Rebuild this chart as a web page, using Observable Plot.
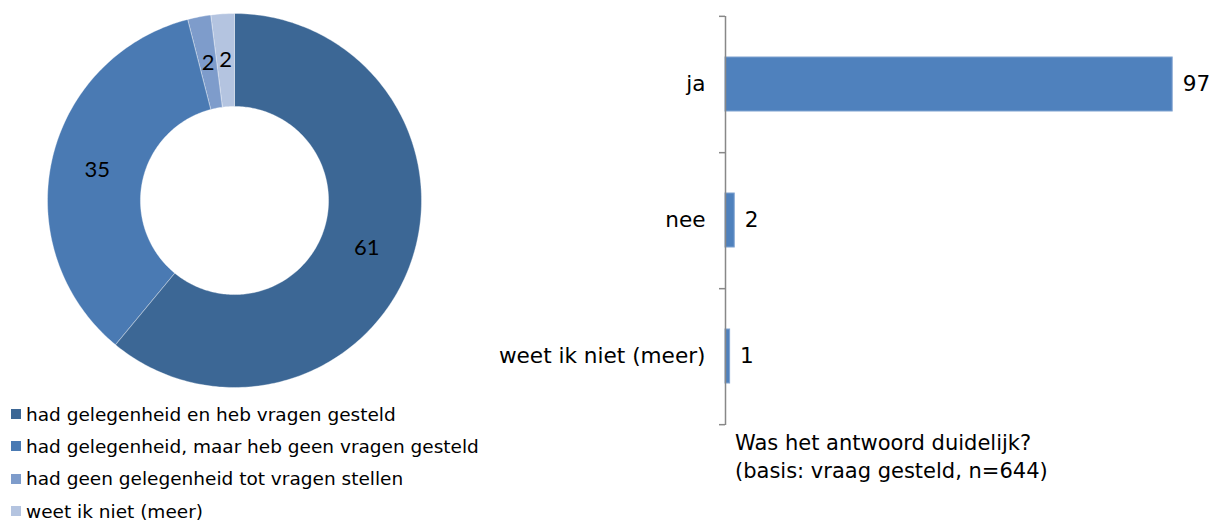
<!DOCTYPE html>
<html>
<head>
<meta charset="utf-8">
<script src="https://cdn.jsdelivr.net/npm/d3@7"></script>
<script src="https://cdn.jsdelivr.net/npm/@observablehq/plot@0.6"></script>
<style>
  html, body { margin: 0; padding: 0; background: #fff; width: 1221px; height: 520px; overflow: hidden; }
  #page { position: relative; width: 1221px; height: 520px; font-family: "DejaVu Sans", Verdana, sans-serif; color: #000; }
  #donut { position: absolute; left: 0; top: 0; }
  #legend { position: absolute; left: 11px; top: 398px; }
  .row { display: flex; align-items: center; height: 32.3px; font-size: 18.5px; white-space: nowrap; }
  .sw { width: 10px; height: 10px; margin-right: 5px; flex: none; }
  #bars { position: absolute; left: 480px; top: 0; }
  #title { position: absolute; left: 735px; top: 429px; font-size: 21px; line-height: 28px; white-space: nowrap; }
</style>
</head>
<body>
<div id="page">
  <div id="donut"></div>
  <div id="legend"></div>
  <div id="bars"></div>
  <div id="title"></div>
</div>
<script>
// ---- Donut data ----
const donutCategories = [
  "had gelegenheid en heb vragen gesteld",
  "had gelegenheid, maar heb geen vragen gesteld",
  "had geen gelegenheid tot vragen stellen",
  "weet ik niet (meer)"
];
const donutValues = [61, 35, 2, 2];
const donutColors = ["#3C6795", "#4A7AB3", "#7E9CCB", "#B4C4E0"];

// ---- Bar data ----
const barCategories = ["ja", "nee", "weet ik niet (meer)"];
const barValues = [97, 2, 1];
const barColor = "#4F81BD";
const barTitle = ["Was het antwoord duidelijk?", "(basis: vraag gesteld, n=644)"];

// ---- Donut geometry (built from the values) ----
const total = d3.sum(donutValues);
const rOuter = 1, rInner = 0.503;
const ringPoints = [];
const labelPoints = [];
let acc = 0;
donutValues.forEach((v, i) => {
  const a0 = acc / total * 2 * Math.PI;
  acc += v;
  const a1 = acc / total * 2 * Math.PI;
  const n = Math.max(4, Math.ceil((a1 - a0) / (Math.PI / 180)));
  const key = donutCategories[i];
  for (let k = 0; k <= n; k++) {
    const a = a0 + (a1 - a0) * k / n;
    ringPoints.push({key, x: rOuter * Math.sin(a), y: rOuter * Math.cos(a)});
  }
  for (let k = n; k >= 0; k--) {
    const a = a0 + (a1 - a0) * k / n;
    ringPoints.push({key, x: rInner * Math.sin(a), y: rInner * Math.cos(a)});
  }
  const am = (a0 + a1) / 2, rm = (rOuter + rInner) / 2;
  labelPoints.push({key, value: v, x: rm * Math.sin(am), y: rm * Math.cos(am)});
});

const R = 187;
const donutW = 470, donutH = 400;
const donut = Plot.plot({
  width: donutW,
  height: donutH,
  margin: 0,
  x: {domain: [-234 / R, (donutW - 234) / R], axis: null},
  y: {domain: [-(donutH / 2) / R, (donutH / 2) / R], axis: null},
  color: {domain: donutCategories, range: donutColors},
  style: {background: "transparent"},
  marks: [
    Plot.line(ringPoints, {x: "x", y: "y", z: "key", fill: "key", stroke: "#ffffff", strokeWidth: 0.6, strokeOpacity: 0.6, curve: "linear-closed"}),
    Plot.text(labelPoints, {x: "x", y: "y", text: d => String(d.value), fill: "#000", fontSize: 22, fontFamily: "Lato, 'DejaVu Sans', sans-serif"})
  ]
});
document.getElementById("donut").appendChild(donut);

// ---- Legend ----
const legend = document.getElementById("legend");
donutCategories.forEach((c, i) => {
  const row = document.createElement("div");
  row.className = "row";
  const sw = document.createElement("span");
  sw.className = "sw";
  sw.style.background = donutColors[i];
  const tx = document.createElement("span");
  tx.textContent = c;
  row.appendChild(sw);
  row.appendChild(tx);
  legend.appendChild(row);
});

// ---- Bar chart ----
const barData = barCategories.map((c, i) => ({cat: c, value: barValues[i]}));
const barsTop = 16, barsBottom = 425;
const step = (barsBottom - barsTop) / barCategories.length;
const xPerUnit = 461 / 100;
const bars = Plot.plot({
  width: 741,
  height: 440,
  marginLeft: 245,
  marginRight: 35,
  marginTop: barsTop,
  marginBottom: 440 - barsBottom,
  style: {fontFamily: "'DejaVu Sans', Verdana, sans-serif", fontSize: "21.6px", color: "#000", background: "transparent"},
  x: {domain: [0, 100], axis: null},
  y: {domain: barCategories, paddingInner: 0.6, paddingOuter: 0.3, label: null, tickSize: 0, tickPadding: 20},
  marks: [
    Plot.barX(barData, {x: "value", y: "cat", fill: barColor, stroke: "#7FA2D0", strokeWidth: 1}),
    Plot.ruleX([0], {stroke: "#888888", strokeWidth: 1.5}),
    Plot.ruleY(barCategories, {y: d => d, dy: step / 2, x1: 0, x2: -6 / xPerUnit, stroke: "#888888", strokeWidth: 1.5}),
    Plot.ruleY(barCategories.slice(0, 1), {y: d => d, dy: -step / 2, x1: 0, x2: -6 / xPerUnit, stroke: "#888888", strokeWidth: 1.5}),
    Plot.text(barData, {x: "value", y: "cat", text: d => String(d.value), textAnchor: "start", dx: 10, fill: "#000", fontSize: 21.6})
  ]
});
document.getElementById("bars").appendChild(bars);

document.getElementById("title").innerHTML = barTitle.map(t => `<div>${t}</div>`).join("");
</script>
</body>
</html>
